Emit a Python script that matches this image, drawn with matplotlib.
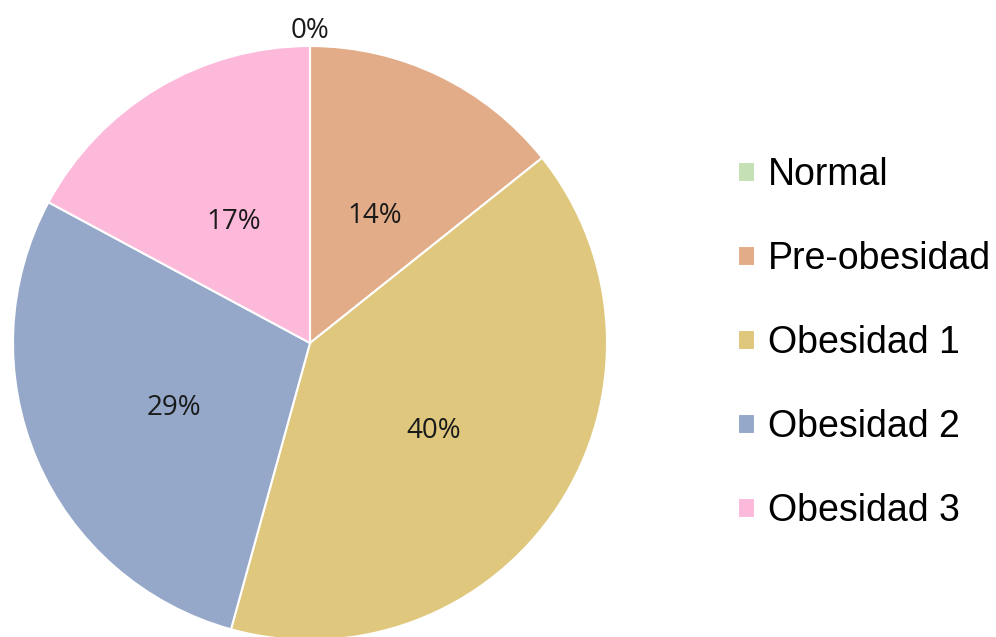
import matplotlib.pyplot as plt

categories = ["Normal", "Pre-obesidad", "Obesidad 1", "Obesidad 2", "Obesidad 3"]
counts = [0, 5, 14, 10, 6]
colors = ["#C5E0B4", "#E2AC88", "#DFC77E", "#95A8C9", "#FDB9DA"]

plt.rcParams['font.family'] = ['Liberation Sans', 'DejaVu Sans']

fig = plt.figure(figsize=(9.96, 6.37), dpi=100)
ax = fig.add_axes([13/996, -3/637, 594/996, 594/637])

wedges, texts, autotexts = ax.pie(
    counts, colors=colors, startangle=90, counterclock=False,
    autopct='%1.0f%%', pctdistance=0.5,
    wedgeprops=dict(edgecolor='white', linewidth=1.5),
    textprops=dict(fontsize=20, color='#1a1a1a', family=['Open Sans', 'DejaVu Sans']))
# nudge the labels down a little, like the original's placement
for t in autotexts[1:]:
    x, y = t.get_position()
    t.set_position((x, y - 0.022))
# the empty slice gets its label just outside the rim, as in the original
autotexts[0].set_position((0, 1.05))
ax.set_xlim(-1, 1)
ax.set_ylim(-1, 1)
ax.set_aspect('equal')

fig.legend(wedges, categories, loc='center left', bbox_to_anchor=(738/996, 1 - 343/637),
           frameon=False, fontsize=27, handlelength=0.45, handleheight=0.45,
           handletextpad=0.35, labelspacing=1.28, borderpad=0, borderaxespad=0)

fig.savefig("out.png", dpi=100)
